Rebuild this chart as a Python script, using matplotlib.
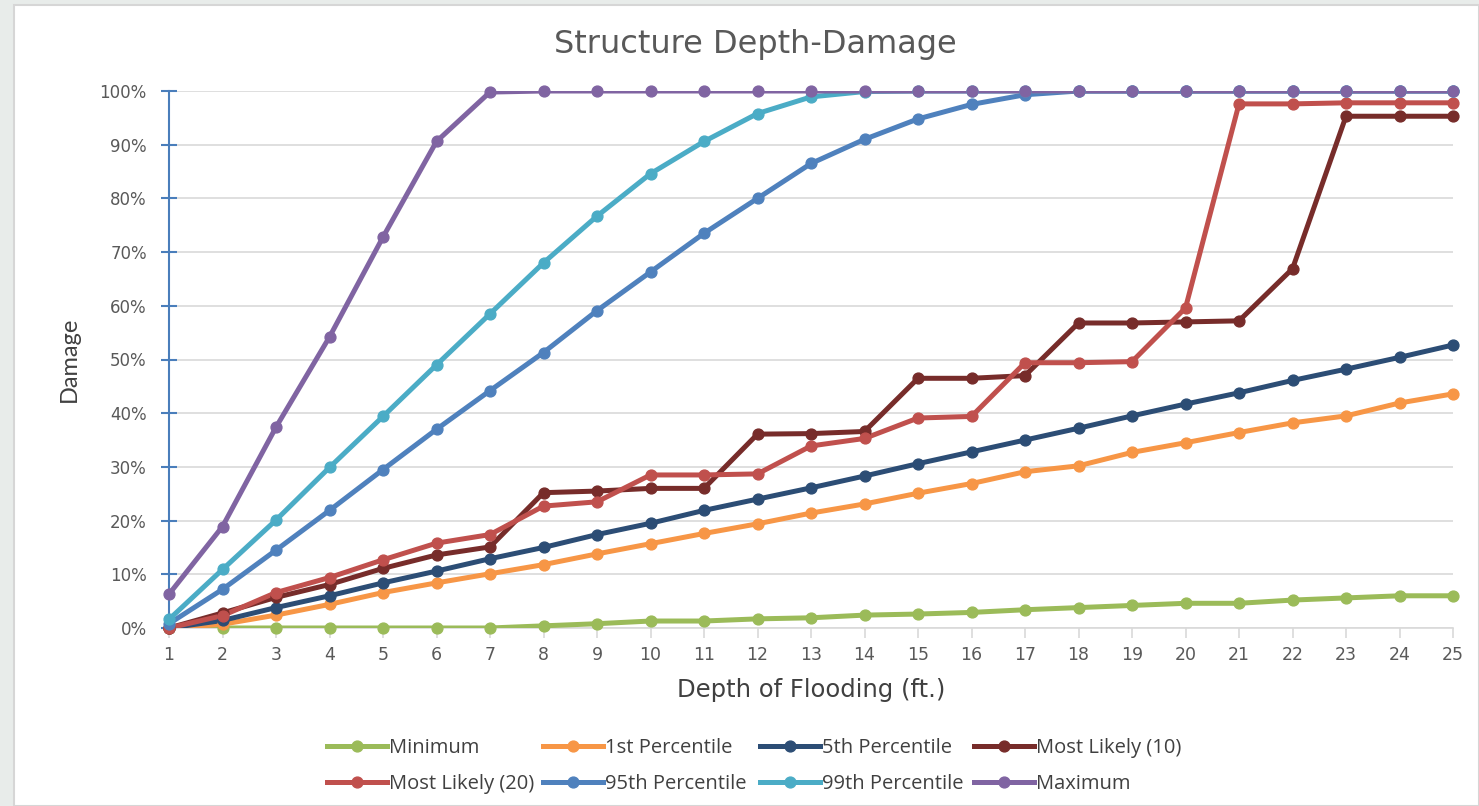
import matplotlib
matplotlib.use("Agg")
import matplotlib.pyplot as plt
from matplotlib.lines import Line2D
from matplotlib.patches import Rectangle
from matplotlib.ticker import PercentFormatter

depth = list(range(1, 26))

minimum = [0, 0, 0, 0, 0, 0, 0, 0.4, 0.8, 1.3, 1.3, 1.7, 1.9, 2.4, 2.6, 2.9, 3.4, 3.8, 4.2, 4.6, 4.6, 5.2, 5.6, 6.0, 6.0]
pct1 = [0, 0.7, 2.4, 4.4, 6.6, 8.4, 10.1, 11.8, 13.8, 15.7, 17.6, 19.4, 21.4, 23.1, 25.1, 26.9, 29.1, 30.2, 32.7, 34.5, 36.4, 38.2, 39.5, 41.9, 43.6]
pct5 = [0, 1.4, 3.8, 6.0, 8.4, 10.6, 12.9, 15.0, 17.4, 19.5, 21.9, 24.0, 26.1, 28.3, 30.6, 32.8, 35.0, 37.2, 39.5, 41.7, 43.8, 46.1, 48.2, 50.4, 52.7]
ml10 = [0, 2.8, 5.7, 8.1, 11.1, 13.6, 15.1, 25.2, 25.5, 26.0, 26.0, 36.1, 36.2, 36.6, 46.5, 46.5, 47.0, 56.8, 56.8, 57.0, 57.2, 66.9, 95.3, 95.3, 95.3]
ml20 = [0, 2.3, 6.6, 9.4, 12.7, 15.8, 17.4, 22.7, 23.5, 28.5, 28.5, 28.7, 33.9, 35.3, 39.1, 39.4, 49.4, 49.4, 49.6, 59.6, 97.6, 97.6, 97.8, 97.8, 97.8]
pct95 = [0.8, 7.2, 14.5, 21.9, 29.5, 37.0, 44.2, 51.3, 59.1, 66.3, 73.5, 80.0, 86.5, 91.0, 94.8, 97.5, 99.3, 100, 100, 100, 100, 100, 100, 100, 100]
pct99 = [1.6, 10.9, 20.1, 29.9, 39.4, 49.0, 58.5, 68.0, 76.7, 84.6, 90.6, 95.8, 98.9, 99.9, 100, 100, 100, 100, 100, 100, 100, 100, 100, 100, 100]
maximum = [6.3, 18.9, 37.4, 54.2, 72.8, 90.6, 99.8, 100, 100, 100, 100, 100, 100, 100, 100, 100, 100, 100, 100, 100, 100, 100, 100, 100, 100]

series_names = ["Minimum", "1st Percentile", "5th Percentile", "Most Likely (10)",
                "Most Likely (20)", "95th Percentile", "99th Percentile", "Maximum"]
series_vals = [minimum, pct1, pct5, ml10, ml20, pct95, pct99, maximum]
colors = ["#9bbb59", "#f79646", "#2c4d75", "#772c2a", "#c0504d", "#4f81bd", "#4bacc6", "#8064a2"]

fig = plt.figure(figsize=(14.79, 8.06), dpi=100)
fig.patch.set_facecolor("#e8ecea")
fig.patches.append(Rectangle((14 / 1479, 0), 1 - 14 / 1479, 1 - 5 / 806,
                             transform=fig.transFigure, facecolor="white",
                             edgecolor="#d6d6d6", linewidth=1.5, zorder=-5))

ax = fig.add_axes([169 / 1479, 1 - 628 / 806, (1453 - 169) / 1479, (628 - 91) / 806])
ax.set_zorder(2)
ax.set_facecolor("none")

handles = []
for name, vals, c in zip(series_names, series_vals, colors):
    ax.plot(depth, vals, color=c, linewidth=3.6, solid_capstyle="round", clip_on=True, zorder=3)
    ax.plot(depth, vals, color=c, linestyle="none", marker="o", markersize=7.8, clip_on=False, zorder=4)
    handles.append(Line2D([], [], color=c, linewidth=3.6, marker="o", markersize=7.8, label=name))

ax.set_xlim(1, 25)
ax.set_ylim(0, 100)
ax.set_xticks(depth)
ax.set_yticks(range(0, 101, 10))
ax.yaxis.set_major_formatter(PercentFormatter(decimals=0))
ax.grid(axis="y", color="#d9d9d9", linewidth=1.2, zorder=0)
ax.set_axisbelow(True)

for s in ["top", "right"]:
    ax.spines[s].set_visible(False)
ax.spines["left"].set_color("#4a7ebb")
ax.spines["left"].set_linewidth(1.5)
ax.spines["bottom"].set_color("#d9d9d9")
ax.spines["bottom"].set_linewidth(1.2)

ax.tick_params(axis="y", direction="inout", length=12, width=1.5, color="#4a7ebb",
               labelsize=12, labelcolor="#595959", pad=10)
ax.tick_params(axis="x", direction="out", length=7, width=1.2, color="#d9d9d9",
               labelsize=12.5, labelcolor="#595959", pad=6)
for lab in ax.get_xticklabels() + ax.get_yticklabels():
    lab.set_fontfamily("DejaVu Sans")

ax.set_xlabel("Depth of Flooding (ft.)", fontsize=17.5, color="#404040", family="DejaVu Sans", labelpad=10)
ax.set_ylabel("Damage", fontsize=17, color="#404040", family="Lato", labelpad=14)
fig.text(755 / 1479, 1 - 45 / 806, "Structure Depth-Damage", ha="center", va="center",
         fontsize=23, color="#595959", family="DejaVu Sans")

col_x = [327, 543, 760, 974]
for j in range(4):
    leg = fig.legend(handles=[handles[j], handles[j + 4]], loc="center left",
                     bbox_to_anchor=(col_x[j] / 1479, 1 - 766 / 806),
                     frameon=False, handlelength=3.0, handletextpad=0.1,
                     labelspacing=0.75, labelcolor="#404040", borderpad=0, borderaxespad=0,
                     prop={"family": "Open Sans", "size": 14.5})

fig.savefig("out.png", dpi=100, facecolor=fig.get_facecolor())
